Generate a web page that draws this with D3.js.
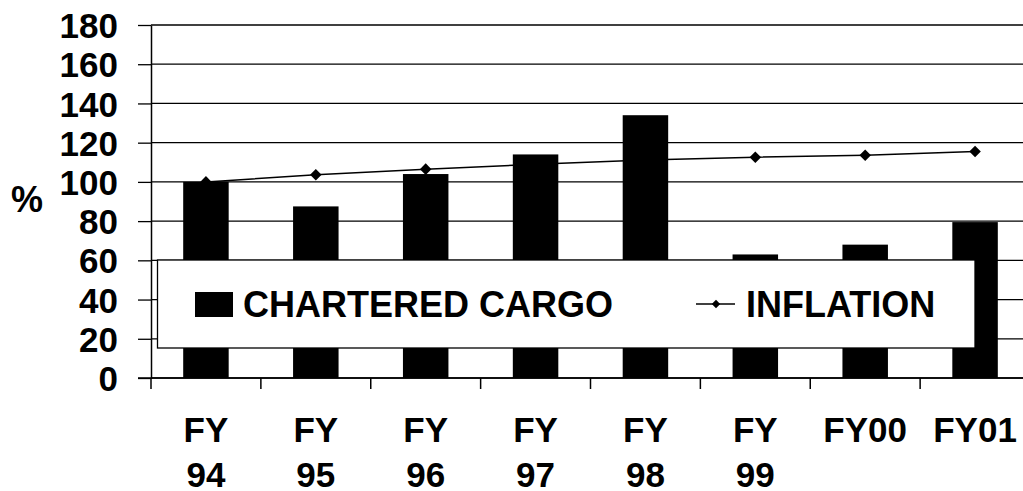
<!DOCTYPE html>
<html>
<head>
<meta charset="utf-8">
<script src="https://cdn.jsdelivr.net/npm/d3@7"></script>
<style>
  body { margin: 0; background: #fff; }
  svg { display: block; font-family: "Liberation Sans", Arial, sans-serif; font-weight: bold; }
</style>
</head>
<body>
<div id="chart"></div>
<script>
const WIDTH = 1023;
const HEIGHT = 491;
const MARGINS = { left: 151, top: 25, bottom: 113 };
const PLOT_RIGHT = 1030;

// data
const categories = ["FY94", "FY95", "FY96", "FY97", "FY98", "FY99", "FY00", "FY01"];
const tickLabels = [["FY", "94"], ["FY", "95"], ["FY", "96"], ["FY", "97"], ["FY", "98"], ["FY", "99"], ["FY00"], ["FY01"]];
const cargo = [100, 87.5, 104, 114, 134, 63, 68, 79.5];
const inflation = [100, 103.6, 106.5, 109, 111.2, 112.6, 113.6, 115.5];
const yTicks = [0, 20, 40, 60, 80, 100, 120, 140, 160, 180];

const svg = d3.select("#chart").append("svg")
  .attr("width", WIDTH)
  .attr("height", HEIGHT);

const Y_SCALE = d3.scaleLinear().domain([0, 180]).range([HEIGHT - MARGINS.bottom, MARGINS.top]);
const X_SCALE = d3.scaleBand()
  .domain(categories)
  .range([MARGINS.left, PLOT_RIGHT])
  .paddingInner(0.586)
  .paddingOuter(0.293);

const baseY = Y_SCALE(0);
const step = X_SCALE.step();
const x0 = X_SCALE.range()[0];

// gridlines
svg.append("g").selectAll("line")
  .data(yTicks)
  .enter()
  .append("line")
  .attr("x1", MARGINS.left)
  .attr("x2", WIDTH)
  .attr("y1", d => Y_SCALE(d))
  .attr("y2", d => Y_SCALE(d))
  .attr("stroke", "#000")
  .attr("stroke-width", 1.3);

// y axis
const yAxis = svg.append("g")
  .attr("transform", "translate(" + MARGINS.left + ",0)")
  .call(d3.axisLeft(Y_SCALE).tickValues(yTicks).tickSize(13).tickPadding(20).tickSizeOuter(0));
yAxis.select(".domain").attr("stroke-width", 1.5);
yAxis.selectAll(".tick line").attr("stroke-width", 1.3);
yAxis.selectAll("text")
  .attr("font-size", "35px")
  .attr("font-family", "Liberation Sans, Arial, sans-serif")
  .attr("font-weight", "bold")
  .attr("fill", "#000")
  .attr("dy", "0.36em");

svg.append("text")
  .attr("x", 27)
  .attr("y", 199)
  .attr("dy", "0.36em")
  .attr("text-anchor", "middle")
  .attr("font-size", "36px")
  .text("%");

// inflation line (drawn under the bars)
const line = d3.line()
  .x((d, i) => X_SCALE(categories[i]) + X_SCALE.bandwidth() / 2)
  .y(d => Y_SCALE(d));

svg.append("path")
  .datum(inflation)
  .attr("d", line)
  .attr("fill", "none")
  .attr("stroke", "#000")
  .attr("stroke-width", 1.5);

const diamond = d3.symbol().type(d3.symbolDiamond2).size(85);
svg.append("g").selectAll("path")
  .data(inflation)
  .enter()
  .append("path")
  .attr("d", diamond)
  .attr("transform", (d, i) => "translate(" + (X_SCALE(categories[i]) + X_SCALE.bandwidth() / 2) + "," + Y_SCALE(d) + ")")
  .attr("fill", "#000");

// bars
svg.append("g").selectAll("rect")
  .data(cargo)
  .enter()
  .append("rect")
  .attr("x", (d, i) => X_SCALE(categories[i]))
  .attr("y", d => Y_SCALE(d))
  .attr("width", X_SCALE.bandwidth())
  .attr("height", d => baseY - Y_SCALE(d))
  .attr("fill", "#000");

// x axis line and ticks at category boundaries
svg.append("line")
  .attr("x1", 138).attr("x2", WIDTH)
  .attr("y1", baseY).attr("y2", baseY)
  .attr("stroke", "#000").attr("stroke-width", 1.5);

svg.append("g").selectAll("line")
  .data(d3.range(categories.length + 1))
  .enter()
  .append("line")
  .attr("x1", i => x0 + i * step)
  .attr("x2", i => x0 + i * step)
  .attr("y1", baseY)
  .attr("y2", baseY + 11)
  .attr("stroke", "#000")
  .attr("stroke-width", 1.5);

// x labels
const labels = svg.append("g").selectAll("text")
  .data(categories)
  .enter()
  .append("text")
  .attr("x", d => X_SCALE(d) + X_SCALE.bandwidth() / 2)
  .attr("y", 442)
  .attr("text-anchor", "middle")
  .attr("font-size", "35px");

labels.each(function (d, i) {
  const t = d3.select(this);
  tickLabels[i].forEach((s, j) => {
    t.append("tspan")
      .attr("x", X_SCALE(d) + X_SCALE.bandwidth() / 2)
      .attr("y", 442 + j * 45)
      .text(s);
  });
});

// legend
const legend = svg.append("g");
legend.append("rect")
  .attr("x", 157.5).attr("y", 260)
  .attr("width", 817.5).attr("height", 88)
  .attr("fill", "#fff")
  .attr("stroke", "#000")
  .attr("stroke-width", 1.3);

legend.append("rect")
  .attr("x", 195).attr("y", 292)
  .attr("width", 38).attr("height", 25)
  .attr("fill", "#000");

legend.append("text")
  .attr("x", 243).attr("y", 317)
  .attr("font-size", "36px")
  .text("CHARTERED CARGO");

legend.append("line")
  .attr("x1", 696).attr("x2", 735)
  .attr("y1", 304).attr("y2", 304)
  .attr("stroke", "#000").attr("stroke-width", 1.5);

legend.append("path")
  .attr("d", d3.symbol().type(d3.symbolDiamond2).size(45))
  .attr("transform", "translate(716,304)")
  .attr("fill", "#000");

legend.append("text")
  .attr("x", 746).attr("y", 317)
  .attr("font-size", "36px")
  .text("INFLATION");
</script>
</body>
</html>
